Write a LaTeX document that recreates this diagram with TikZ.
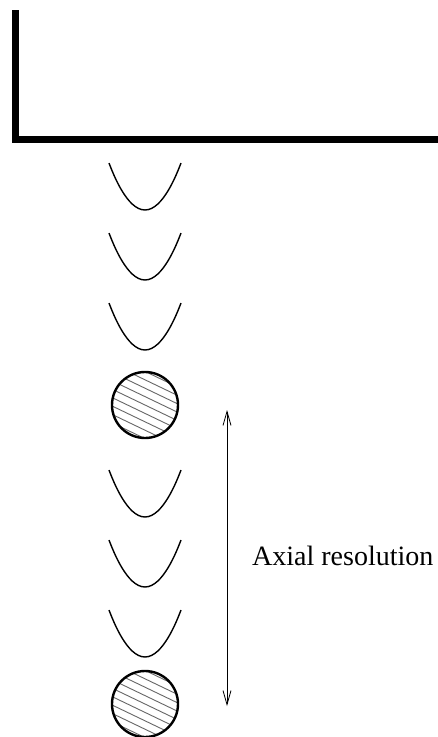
\documentclass[tikz,border=0pt]{standalone}
\usepackage{fontspec}
\setmainfont{Liberation Serif}
\usetikzlibrary{arrows.meta, positioning}

\begin{document}
\begin{tikzpicture}[x=1pt, y=-1pt, >={Straight Barb[length=14pt, width=8pt]},
    wall/.style={line width=7pt},
    wave/.style={line width=1.4pt},
    scatterer/.style={draw, circle, line width=2.4pt, minimum size=66pt, inner sep=0pt,
        path picture={
            \foreach \k in {-5,...,5}
                \draw[gray!80!black, line width=0.9pt] (path picture bounding box.center)
                    ++(-45,\k*8.4-21.6) -- ++(90,43.2);
        }},
    span/.style={<->, line width=0.8pt},
    caption/.style={anchor=base west, inner sep=0pt, font=\fontsize{28}{34}\selectfont}]

    \useasboundingbox (0,0) rectangle (438,737);

    % Transducer
    \coordinate (walltop) at (15.5,10);
    \coordinate (wallcorner) at (15.5,139);
    \coordinate (wallend) at (438,139);
    \draw[wall] (walltop) -- (wallcorner) -- (wallend);

    % Pulses
    \foreach \y in {163,233,303,470,540,610}
        \draw[wave] (109,\y) parabola bend (145,\y+47) (181,\y);

    % Nodes
    \node (near) [scatterer] at (145,405) {};
    \node (far) [scatterer] at (145,704) {};
    \coordinate (spantop) at (227,410);
    \coordinate (spanbot) at (227,706);
    \node (label) [caption] at (252,565) {Axial resolution};

    % Links
    \draw[span] (spantop) -- (spanbot);
\end{tikzpicture}
\end{document}
